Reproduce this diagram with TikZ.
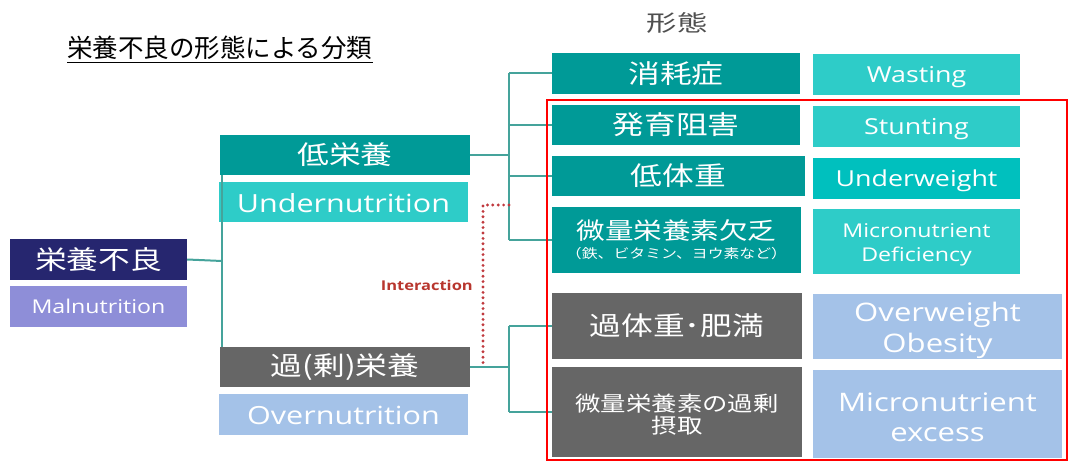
\documentclass[tikz,border=0pt]{standalone}
\usepackage{fontspec}
\newfontfamily\jp[FakeStretch=1.22]{Noto Sans CJK JP}
\newfontfamily\jpn{Noto Sans CJK JP}
\newfontfamily\jpt[FakeStretch=1.35]{Noto Sans CJK JP}
\newfontfamily\en[FakeStretch=1.22]{Open Sans}
\definecolor{tealdark}{HTML}{009A97}
\definecolor{teallight}{HTML}{2ECCC8}
\definecolor{tealmid}{HTML}{00C0BE}
\definecolor{navy}{HTML}{26266F}
\definecolor{lavender}{HTML}{8E8ED8}
\definecolor{darkgray}{HTML}{666666}
\definecolor{lightblue}{HTML}{A4C2E8}
\definecolor{conncol}{HTML}{45A39B}
\definecolor{dotred}{HTML}{C0393E}
\definecolor{intered}{HTML}{B8362E}
\definecolor{titlegray}{HTML}{4F4F4F}
\tikzset{
  box/.style={rectangle, inner sep=0pt, text=white, align=center},
  conn/.style={draw=conncol, line width=2pt},
  dotconn/.style={draw=dotred, line width=3.2pt, line cap=round, dash pattern=on 0pt off 5.4pt},
  redframe/.style={draw=red, line width=2.3pt},
  jpbig/.style={font=\jp\fontsize{26}{30}\selectfont},
  enbig/.style={font=\en\fontsize{25}{31}\selectfont, text height=20.9pt, text depth=0pt},
  enmid/.style={font=\en\fontsize{22}{26}\selectfont, text height=16.7pt, text depth=0pt},
  ensmall/.style={font=\en\fontsize{19}{24}\selectfont},
}
\begin{document}
\begin{tikzpicture}[x=1pt,y=-1pt]
\useasboundingbox (0,0) rectangle (1070,462);
% title texts
\node[inner sep=0pt, anchor=base west, font=\jpn\fontsize{25.5}{30}\selectfont, text=black] (title) at (67,58) {栄養不良の形態による分類};
\draw[line width=1.2pt] ([yshift=-4.5pt]title.base west) -- ([yshift=-4.5pt]title.base east);
\node[inner sep=0pt, font=\jpt\fontsize{22.5}{26}\selectfont, text=titlegray] (keitai) at (677,23) {形態};

% junction coordinates
\coordinate (j1) at (222,261);
\coordinate (j2) at (509,155);
\coordinate (j3) at (509,367);
\coordinate (d1) at (483,205);
\coordinate (d2) at (509,205);

% boxes
\node[box, fill=navy, minimum width=177pt, minimum height=41pt, jpbig] (mal) at (98.5,259.5) {栄養不良};
\node[box, fill=lavender, minimum width=177pt, minimum height=41pt, ensmall, text height=13.6pt, text depth=0pt] (maleng) at (98.5,306.5) {Malnutrition};

\node[box, fill=tealdark, minimum width=250pt, minimum height=40pt, jpbig] (under) at (345,155) {低栄養};
\node[box, fill=teallight, minimum width=249pt, minimum height=40pt, enbig] (undereng) at (343.5,202) {Undernutrition};
\node[box, fill=darkgray, minimum width=250pt, minimum height=40pt, jpbig] (over) at (345,367) {過(剰)栄養};
\node[box, fill=lightblue, minimum width=249pt, minimum height=41pt, enbig] (overeng) at (343.5,414.5) {Overnutrition};

\node[box, fill=tealdark, minimum width=248pt, minimum height=41pt, jpbig] (wast) at (676,73.5) {消耗症};
\node[box, fill=teallight, minimum width=207pt, minimum height=41pt, enmid] (wasteng) at (916.5,74.5) {Wasting};
\node[box, fill=tealdark, minimum width=248pt, minimum height=40pt, jpbig] (stunt) at (676,125) {発育阻害};
\node[box, fill=teallight, minimum width=207pt, minimum height=41pt, enmid] (stunteng) at (916.5,126.5) {Stunting};
\node[box, fill=tealdark, minimum width=253pt, minimum height=40pt, jpbig] (uw) at (678.5,176) {低体重};
\node[box, fill=tealmid, minimum width=207pt, minimum height=41pt, enmid] (uweng) at (916.5,178.5) {Underweight};
\node[box, fill=tealdark, minimum width=249pt, minimum height=66pt, font=\jp\fontsize{23.4}{19}\selectfont] (mnd) at (676.5,240) {微量栄養素欠乏\\{\fontsize{13}{16}\selectfont （鉄、ビタミン、ヨウ素など）}};
\node[box, fill=teallight, minimum width=207pt, minimum height=65pt, ensmall] (mndeng) at (916.5,241.5) {\rule{0pt}{20.4pt}Micronutrient\\Deficiency};
\node[box, fill=darkgray, minimum width=250pt, minimum height=66pt, jpbig] (ob) at (677,326) {過体重･肥満};
\node[box, fill=lightblue, minimum width=249pt, minimum height=65pt, font=\en\fontsize{25.5}{31}\selectfont] (obeng) at (937.5,326.5) {\rule{0pt}{27.5pt}Overweight\\Obesity};
\node[box, fill=darkgray, minimum width=250pt, minimum height=90pt, font=\jp\fontsize{20.8}{22}\selectfont] (mne) at (677,412) {\rule{0pt}{22.3pt}微量栄養素の過剰\\摂取};
\node[box, fill=lightblue, minimum width=249pt, minimum height=88pt, font=\en\fontsize{25.5}{30}\selectfont] (mneeng) at (937.5,414) {\rule{0pt}{25.4pt}Micronutrient\\excess};

% connectors
\draw[conn] (mal.east) -- (j1);
\draw[conn] (j1 |- under.south) -- (j1 |- over.north);
\draw[conn] (under.east) -- (j2);
\draw[conn] (j2 |- wast.west) -- (j2 |- mnd.west);
\draw[conn] (j2 |- wast.west) -- (wast.west);
\draw[conn] (j2 |- stunt.west) -- (stunt.west);
\draw[conn] (j2 |- uw.west) -- (uw.west);
\draw[conn] (j2 |- mnd.west) -- (mnd.west);
\draw[conn] (over.east) -- (j3);
\draw[conn] (j3 |- ob.west) -- (j3 |- mne.west);
\draw[conn] (j3 |- ob.west) -- (ob.west);
\draw[conn] (j3 |- mne.west) -- (mne.west);
\draw[dotconn] (d2) -- (d1) -- (d1 |- over.east);
\node[inner sep=0pt, anchor=east, font=\en\bfseries\fontsize{13.5}{16}\selectfont, text=intered] (inter) at (473,285) {Interaction};

% red frame
\draw[redframe] (547,100) rectangle (1067,460);
\end{tikzpicture}
\end{document}
